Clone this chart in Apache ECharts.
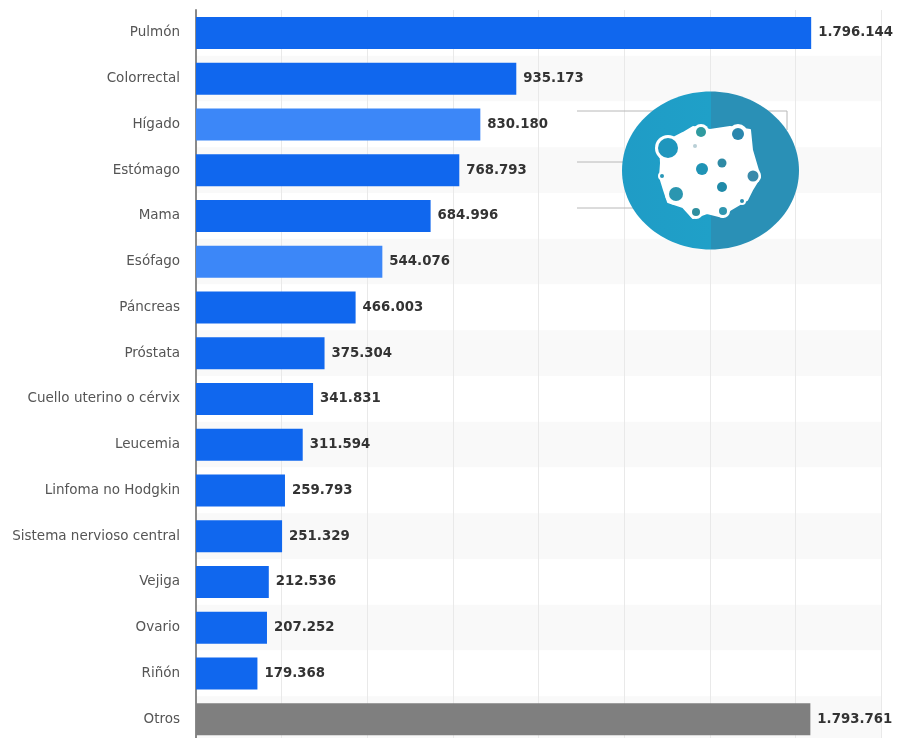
<!DOCTYPE html>
<html><head><meta charset="utf-8">
<style>html,body{margin:0;padding:0;background:#fff;overflow:hidden;height:738px}#c{width:897px;height:760px}</style>
<script src="https://cdn.jsdelivr.net/npm/echarts@6/dist/echarts.min.js"></script>
</head><body><div id="c"></div>
<script>
const categories = ['Pulmón','Colorrectal','Hígado','Estómago','Mama','Esófago','Páncreas','Próstata','Cuello uterino o cérvix','Leucemia','Linfoma no Hodgkin','Sistema nervioso central','Vejiga','Ovario','Riñón','Otros'];
const casos = [1796144,935173,830180,768793,684996,544076,466003,375304,341831,311594,259793,251329,212536,207252,179368,1793761];
const resaltados = ['Hígado','Esófago'];
const otros = ['Otros'];
const fmt = v => String(v).replace(/\B(?=(\d{3})+$)/g,'.');
const colorOf = n => otros.includes(n) ? '#7f7f7f' : resaltados.includes(n) ? '#3c87f8' : '#1067ee';

// decorative icon: [cx, cy, spot radius, ring radius, colour]
const spots = [[668,148,10,13,'#1f96bd'],[701,132,5,8,'#2f9a9f'],[738,134,6,10,'#2a86ad'],[695,146,2,2,'#b9cfd6'],[702,169,6,6,'#1f93b5'],[722,163,4.5,4.5,'#2f8aa5'],[753,176,5.5,8,'#3a8aaa'],[662,176,2,4,'#2a98b8'],[722,187,5,5,'#1f8aa8'],[676,194,7,11,'#2b96b0'],[696,212,4,7,'#2f8f9f'],[723,211,4,7,'#2f96b0'],[742,201,2,4,'#2a8fb0']];
const blob = [[683,133],[693,127],[710,130],[730,127],[750,130],[752,150],[757,167],[760,177],[752,190],[747,200],[730,210],[723,217],[707,213],[693,218],[683,207],[668,202],[664,190],[660,177],[661,163],[660,145]];
const icon = [
  {type:'line',z:5,shape:{x1:577,y1:111,x2:787,y2:111},style:{stroke:'#b8b8b8',lineWidth:1}},
  {type:'line',z:5,shape:{x1:787,y1:111,x2:787,y2:130},style:{stroke:'#b8b8b8',lineWidth:1}},
  {type:'line',z:5,shape:{x1:577,y1:162,x2:640,y2:162},style:{stroke:'#b8b8b8',lineWidth:1}},
  {type:'line',z:5,shape:{x1:577,y1:208,x2:640,y2:208},style:{stroke:'#b8b8b8',lineWidth:1}},
  {type:'ellipse',z:6,shape:{cx:710.5,cy:170.5,rx:88.5,ry:79},style:{fill:{type:'linear',x:0,y:0,x2:1,y2:0,colorStops:[{offset:0,color:'#1f9cc6'},{offset:.5,color:'#1fa0c8'},{offset:.5,color:'#2a90b6'},{offset:1,color:'#2a90b6'}]}}},
  {type:'polygon',z:7,shape:{points:blob},style:{fill:'#fff',stroke:'#fff',lineWidth:2,lineJoin:'round'}},
  ...spots.map(s=>({type:'circle',z:7,shape:{cx:s[0],cy:s[1],r:s[3]},style:{fill:'#fff'}})),
  ...spots.map(s=>({type:'circle',z:8,shape:{cx:s[0],cy:s[1],r:s[2]},style:{fill:s[4]}}))
];

const chart = echarts.init(document.getElementById('c'));
chart.setOption({
  animation:false,
  backgroundColor:'#fff',
  grid:{left:196,right:16,top:10,bottom:18,containLabel:false},
  xAxis:{type:'value',min:0,max:2000000,interval:250000,axisLabel:{show:false},axisLine:{show:false},axisTick:{show:false},
    splitLine:{show:true,lineStyle:{color:'#e9e9e9',width:1}}},
  yAxis:{type:'category',inverse:true,data:categories,
    axisLine:{show:true,lineStyle:{color:'#8a8a8a',width:2}},axisTick:{show:false},
    axisLabel:{margin:16,color:'#555',fontFamily:'DejaVu Sans',fontSize:13.5,padding:[2,0,0,0]},
    splitArea:{show:true,areaStyle:{color:['#ffffff','#f9f9f9']}}},
  graphic:icon,
  series:[{type:'bar',data:casos.map((v,i)=>({value:v,itemStyle:{color:colorOf(categories[i])}})),barWidth:32,
    label:{show:true,position:'right',distance:7,color:'#333',fontFamily:'DejaVu Sans',fontWeight:'bold',fontSize:13.3,formatter:p=>fmt(p.value)}}]
});
</script></body></html>
